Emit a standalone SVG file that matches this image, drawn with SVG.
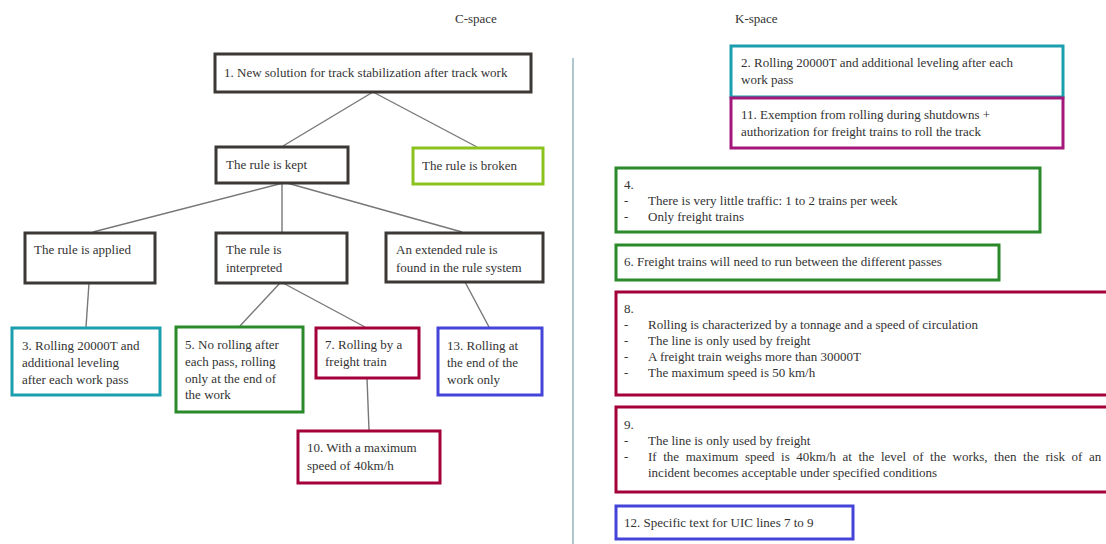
<svg xmlns="http://www.w3.org/2000/svg" width="1106" height="544" viewBox="0 0 1106 544" font-family="'Liberation Serif', Times, serif">
<style>
text{font-family:'Liberation Serif','Times New Roman',Times,serif;font-size:13px;fill:#333}
.b{fill:#fff;stroke-width:3}
.k{stroke:#3b3836}.lg{stroke:#8cc21e}.tl{stroke:#1b9ead}.gr{stroke:#2a8a2a}.cr{stroke:#a4003a}.bl{stroke:#4444d8}.mg{stroke:#a4177a}
.c{stroke:#777;stroke-width:1.4;fill:none}
</style>
<rect width="1106" height="544" fill="#fff"/>
<text x="455" y="23">C-space</text>
<text x="735" y="23">K-space</text>
<line x1="573" y1="58" x2="573" y2="544" stroke="#5f8f9c" stroke-width="1"/>
<g id="connectors">
<line class="c" x1="373" y1="92" x2="283" y2="146"/>
<line class="c" x1="373" y1="92" x2="477" y2="147"/>
<line class="c" x1="283" y1="183" x2="93" y2="232"/>
<line class="c" x1="282" y1="183" x2="282" y2="232"/>
<line class="c" x1="287" y1="183" x2="462" y2="232"/>
<line class="c" x1="89" y1="283" x2="86" y2="327"/>
<line class="c" x1="280" y1="283" x2="240" y2="326"/>
<line class="c" x1="283" y1="283" x2="365" y2="327"/>
<line class="c" x1="367" y1="378" x2="369" y2="430"/>
<line class="c" x1="465" y1="282" x2="489" y2="327"/>
</g>
<g id="n1"><rect class="b k" x="215" y="54" width="316" height="38"/><text x="224" y="77">1. New solution for track stabilization after track work</text></g>
<g id="kept"><rect class="b k" x="216" y="147" width="132" height="36"/><text x="226" y="169">The rule is kept</text></g>
<g id="broken"><rect class="b lg" x="413" y="148" width="130" height="36"/><text x="422" y="170">The rule is broken</text></g>
<g id="applied"><rect class="b k" x="25" y="233" width="130" height="50"/><text x="34" y="254">The rule is applied</text></g>
<g id="interpreted"><rect class="b k" x="216" y="233" width="131" height="50"/><text x="226" y="254">The rule is</text><text x="226" y="272">interpreted</text></g>
<g id="extended"><rect class="b k" x="386" y="233" width="157" height="49"/><text x="396" y="254">An extended rule is</text><text x="396" y="272">found in the rule system</text></g>
<g id="n3"><rect class="b tl" x="12" y="328" width="148" height="67"/><text x="22" y="350">3. Rolling 20000T and</text><text x="22" y="367">additional leveling</text><text x="22" y="384">after each work pass</text></g>
<g id="n5"><rect class="b gr" x="176" y="327" width="127" height="85"/><text x="185" y="349">5. No rolling after</text><text x="185" y="366">each pass, rolling</text><text x="185" y="383">only at the end of</text><text x="185" y="399">the work</text></g>
<g id="n7"><rect class="b cr" x="316" y="328" width="103" height="50"/><text x="325" y="349">7. Rolling by a</text><text x="325" y="366">freight train</text></g>
<g id="n10"><rect class="b cr" x="298" y="431" width="142" height="52"/><text x="307" y="452">10. With a maximum</text><text x="307" y="470">speed of 40km/h</text></g>
<g id="n13"><rect class="b bl" x="438" y="328" width="104" height="67"/><text x="447" y="350">13. Rolling at</text><text x="447" y="367">the end of the</text><text x="447" y="384">work only</text></g>
<g id="n2"><rect class="b tl" x="731" y="46" width="332" height="51"/><text x="741" y="67">2. Rolling 20000T and additional leveling after each</text><text x="741" y="84">work pass</text></g>
<g id="n11"><rect class="b mg" x="731" y="98" width="332" height="50"/><text x="741" y="119">11. Exemption from rolling during shutdowns +</text><text x="741" y="136">authorization for freight trains to roll the track</text></g>
<g id="n4"><rect class="b gr" x="616" y="168" width="424" height="64"/><text x="624" y="189">4.</text><text x="624" y="205">-</text><text x="648" y="205">There is very little traffic: 1 to 2 trains per week</text><text x="624" y="221">-</text><text x="648" y="221">Only freight trains</text></g>
<g id="n6"><rect class="b gr" x="616" y="245" width="383" height="35"/><text x="624" y="266">6. Freight trains will need to run between the different passes</text></g>
<g id="n8"><rect class="b cr" x="616" y="292" width="500" height="103"/><text x="624" y="313">8.</text><text x="624" y="329">-</text><text x="648" y="329">Rolling is characterized by a tonnage and a speed of circulation</text><text x="624" y="345">-</text><text x="648" y="345">The line is only used by freight</text><text x="624" y="361">-</text><text x="648" y="361">A freight train weighs more than 30000T</text><text x="624" y="377">-</text><text x="648" y="377">The maximum speed is 50 km/h</text></g>
<g id="n9"><rect class="b cr" x="616" y="407" width="500" height="85"/><text x="624" y="429">9.</text><text x="624" y="445">-</text><text x="648" y="445">The line is only used by freight</text><text x="624" y="461">-</text><text x="648" y="461" word-spacing="3.3">If the maximum speed is 40km/h at the level of the works, then the risk of an</text><text x="648" y="477">incident becomes acceptable under specified conditions</text></g>
<g id="n12"><rect class="b bl" x="616" y="506" width="237" height="33"/><text x="624" y="527">12. Specific text for UIC lines 7 to 9</text></g>
</svg>
